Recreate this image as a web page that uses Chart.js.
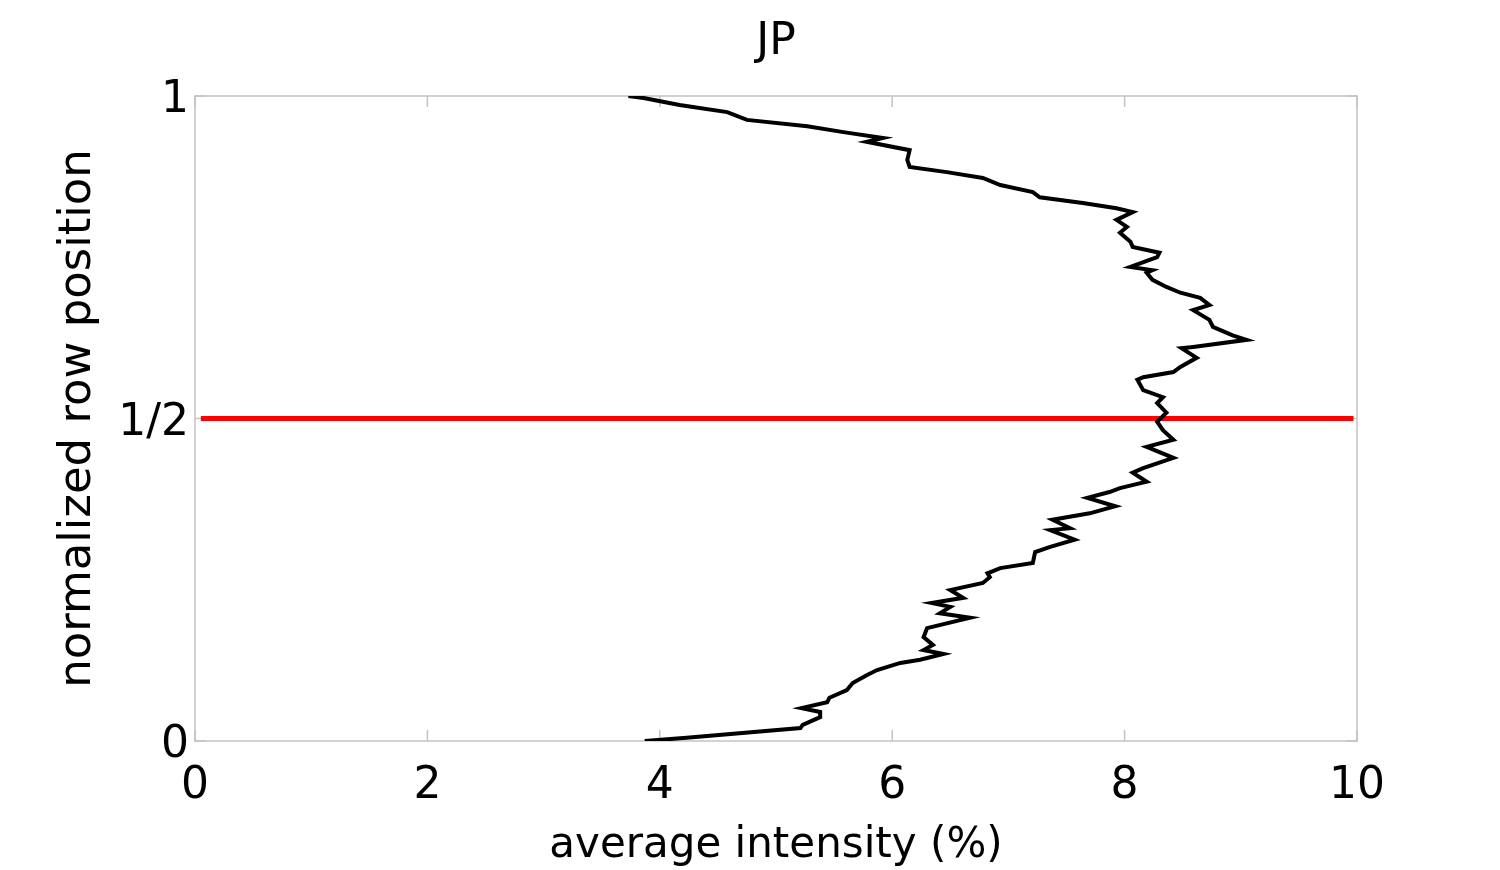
<!DOCTYPE html>
<html>
<head>
<meta charset="utf-8">
<script src="https://cdn.jsdelivr.net/npm/chart.js@4.4.1/dist/chart.umd.min.js"></script>
<style>
    body { margin: 0; background: #fff; }
    #wrap { width: 1500px; height: 870px; position: relative; }
</style>
</head>
<body>
<div id="wrap"><canvas id="c"></canvas></div>
<script>
// average intensity (%) read along the profile, bottom to top
const profileX = [3.87, 4.23, 5.21, 5.23, 5.38, 5.38, 5.22, 5.44, 5.46, 5.61, 5.66, 5.78, 5.87, 6.07, 6.24,
    6.44, 6.27, 6.35, 6.27, 6.30, 6.67, 6.41, 6.50, 6.34, 6.61, 6.50, 6.78, 6.84, 6.82, 6.93, 7.21,
    7.23, 7.36, 7.57, 7.36, 7.53, 7.38, 7.70, 7.92, 7.68, 7.87, 7.96, 8.19, 8.07, 8.16, 8.42, 8.19,
    8.42, 8.33, 8.28, 8.36, 8.28, 8.33, 8.16, 8.11, 8.16, 8.42, 8.48, 8.62, 8.49, 8.59, 9.05, 8.93,
    8.76, 8.73, 8.59, 8.73, 8.65, 8.48, 8.36, 8.24, 8.19, 8.24, 8.05, 8.28, 8.30, 8.07, 8.05, 7.96,
    8.02, 7.93, 8.07, 7.93, 7.64, 7.27, 7.21, 6.93, 6.78, 6.47, 6.15, 6.13, 6.15, 5.78, 5.92, 5.58,
    5.27, 4.75, 4.58, 4.17, 3.86, 3.73];
// normalized row position of each point
const profileY = [0.000, 0.005, 0.020, 0.025, 0.037, 0.045, 0.051, 0.060, 0.067, 0.079, 0.090, 0.102, 0.110, 0.121, 0.126,
    0.135, 0.141, 0.149, 0.161, 0.175, 0.191, 0.198, 0.208, 0.214, 0.222, 0.234, 0.245, 0.254, 0.260, 0.268, 0.276,
    0.293, 0.301, 0.312, 0.327, 0.330, 0.343, 0.353, 0.364, 0.377, 0.386, 0.392, 0.402, 0.416, 0.423, 0.439, 0.456,
    0.467, 0.482, 0.495, 0.509, 0.524, 0.533, 0.544, 0.560, 0.564, 0.572, 0.580, 0.594, 0.609, 0.611, 0.622, 0.629,
    0.642, 0.653, 0.668, 0.676, 0.687, 0.695, 0.704, 0.715, 0.726, 0.730, 0.735, 0.750, 0.757, 0.766, 0.774, 0.788,
    0.797, 0.808, 0.820, 0.826, 0.834, 0.843, 0.851, 0.862, 0.873, 0.882, 0.890, 0.901, 0.916, 0.929, 0.935, 0.944,
    0.953, 0.963, 0.975, 0.986, 0.997, 1.000];

const midLineX = [0.05, 9.97];
const midLineY = [0.5, 0.5];

const xTicks = [0, 2, 4, 6, 8, 10];
const yTicks = [0, 0.5, 1];
const yTickLabels = ['0', '1/2', '1'];

const FONT = "'DejaVu Sans', sans-serif";
const BOX = '#c4c4c4';

// grey frame and inward tick marks, like the original axes
const frame = {
    id: 'frame',
    beforeDatasetsDraw(chart) {
        const { ctx, chartArea: a, scales } = chart;
        ctx.save();
        ctx.strokeStyle = BOX;
        ctx.lineWidth = 1.5;
        ctx.strokeRect(a.left, a.top, a.right - a.left, a.bottom - a.top);
        const len = 11;
        ctx.beginPath();
        xTicks.forEach(v => {
            const px = scales.x.getPixelForValue(v);
            ctx.moveTo(px, a.bottom); ctx.lineTo(px, a.bottom - len);
            ctx.moveTo(px, a.top); ctx.lineTo(px, a.top + len);
        });
        yTicks.forEach(v => {
            const py = scales.y.getPixelForValue(v);
            ctx.moveTo(a.left, py); ctx.lineTo(a.left + len, py);
            ctx.moveTo(a.right, py); ctx.lineTo(a.right - len, py);
        });
        ctx.stroke();
        ctx.restore();
    }
};

const ctx = document.getElementById('c').getContext('2d');
new Chart(ctx, {
    type: 'scatter',
    data: {
        datasets: [{
            label: 'JP',
            data: profileX.map((x, i) => ({ x: x, y: profileY[i] })),
            showLine: true,
            borderColor: '#000',
            borderWidth: 4,
            pointRadius: 0,
            tension: 0
        }, {
            label: 'half',
            data: midLineX.map((x, i) => ({ x: x, y: midLineY[i] })),
            showLine: true,
            borderColor: '#ff0000',
            borderWidth: 5,
            pointRadius: 0
        }]
    },
    options: {
        responsive: true,
        maintainAspectRatio: false,
        animation: false,
        layout: { padding: { right: 143 } },
        scales: {
            x: {
                type: 'linear',
                min: 0,
                max: 10,
                afterBuildTicks: s => { s.ticks = xTicks.map(v => ({ value: v })); },
                afterFit: s => { s.height = 129; },
                grid: { display: false },
                border: { display: false },
                ticks: { color: '#000', padding: 11, font: { family: FONT, size: 44 } },
                title: {
                    display: true,
                    text: 'average intensity (%)',
                    color: '#000',
                    padding: { top: 0, bottom: 1 },
                    font: { family: FONT, size: 42, lineHeight: 1.1 }
                }
            },
            y: {
                type: 'linear',
                min: 0,
                max: 1,
                afterBuildTicks: s => { s.ticks = yTicks.map(v => ({ value: v })); },
                afterFit: s => { s.width = 195; },
                grid: { display: false },
                border: { display: false },
                ticks: {
                    color: '#000',
                    padding: -2,
                    labelOffset: 5,
                    font: { family: FONT, size: 44 },
                    callback: v => yTickLabels[yTicks.indexOf(v)]
                },
                title: {
                    display: true,
                    text: 'normalized row position',
                    color: '#000',
                    padding: { top: 51, bottom: 0 },
                    font: { family: FONT, size: 45 }
                }
            }
        },
        plugins: {
            legend: { display: false },
            tooltip: { enabled: false },
            title: {
                display: true,
                text: 'JP',
                fullSize: false,
                color: '#000',
                padding: { top: 16, bottom: 27.2 },
                font: { family: FONT, size: 44, weight: 'normal' }
            }
        }
    },
    plugins: [frame]
});
</script>
</body>
</html>
